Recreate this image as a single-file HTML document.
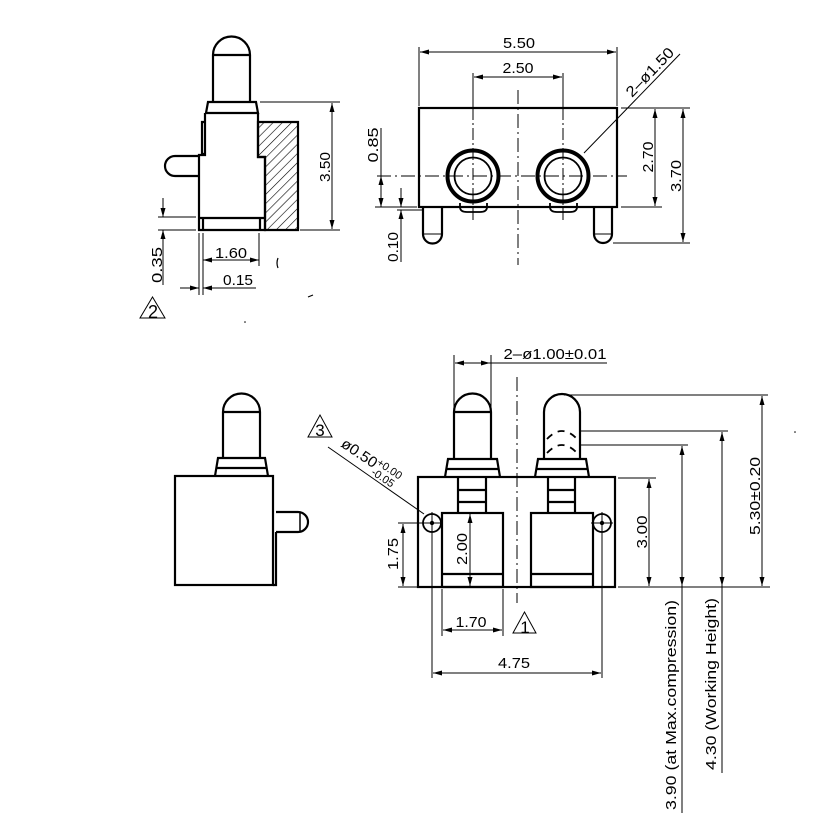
<!DOCTYPE html>
<html><head><meta charset="utf-8"><style>
html,body{margin:0;padding:0;background:#fff;}
svg{display:block;}
text{font-family:"Liberation Sans",sans-serif;font-size:15px;fill:#000;}
</style></head><body>
<svg width="838" height="839" viewBox="0 0 838 839" xmlns="http://www.w3.org/2000/svg">
<defs>
<marker id="a" markerUnits="userSpaceOnUse" markerWidth="10" markerHeight="6" refX="9" refY="2.5" orient="auto-start-reverse"><path d="M0,0 L9,2.5 L0,5 Z" fill="#000"/></marker>
<pattern id="h" patternUnits="userSpaceOnUse" width="6.5" height="6.5" patternTransform="rotate(45)"><line x1="0" y1="0" x2="0" y2="6.5" stroke="#000" stroke-width="1.2"/></pattern>
</defs>
<rect width="838" height="839" fill="#fff"/>

<!-- ============ TOP LEFT VIEW ============ -->
<g fill="none" stroke="#000" stroke-width="2.2">
<path d="M213,102 V55 A18.5,18.5 0 0 1 250,55 V102"/>
<line x1="213" y1="55" x2="250" y2="55"/>
<path d="M206,113 L208,102 H256 L258,113 Z"/>
<path d="M205,113 V155 H199 V230 H265 V157 H258 V113"/>
<path d="M258,122 H298 V230 H265 V157 H258 Z" fill="url(#h)"/>
<path d="M205,122 H202 V154 H205"/>
<line x1="199" y1="218" x2="265" y2="218"/>
<line x1="203" y1="218" x2="203" y2="230"/>
<line x1="260" y1="218" x2="260" y2="230"/>
<path d="M199,156 H175 A10,10 0 0 0 175,176 H199"/>
</g>
<g fill="none" stroke="#000" stroke-width="1">
<line x1="260" y1="102" x2="340" y2="102"/>
<line x1="300" y1="230" x2="340" y2="230"/>
<line x1="332" y1="103" x2="332" y2="229" marker-start="url(#a)" marker-end="url(#a)"/>
<line x1="158" y1="217" x2="196" y2="217"/>
<line x1="158" y1="230" x2="196" y2="230"/>
<line x1="163" y1="198" x2="163" y2="217" marker-end="url(#a)"/>
<line x1="163" y1="285" x2="163" y2="230" marker-end="url(#a)"/>
<line x1="199" y1="233" x2="199" y2="295"/>
<line x1="203" y1="233" x2="203" y2="295"/>
<line x1="259" y1="233" x2="259" y2="266"/>
<line x1="203" y1="260" x2="259" y2="260" marker-start="url(#a)" marker-end="url(#a)"/>
<line x1="180" y1="288" x2="199" y2="288" marker-end="url(#a)"/>
<line x1="256" y1="288" x2="203" y2="288" marker-end="url(#a)"/>
<path d="M140,318 H165 L152.5,297 Z"/>
</g>
<text transform="translate(330,167) rotate(-90)" text-anchor="middle" textLength="30" lengthAdjust="spacingAndGlyphs">3.50</text>
<text transform="translate(162,265) rotate(-90)" text-anchor="middle" textLength="36" lengthAdjust="spacingAndGlyphs">0.35</text>
<text x="231" y="258" text-anchor="middle" textLength="32" lengthAdjust="spacingAndGlyphs">1.60</text>
<text x="238" y="285" text-anchor="middle" textLength="30" lengthAdjust="spacingAndGlyphs">0.15</text>
<text x="153" y="318" text-anchor="middle" style="font-size:18px">2</text>

<!-- ============ TOP RIGHT VIEW ============ -->
<g fill="none" stroke="#000" stroke-width="2.2">
<rect x="419" y="108" width="198" height="99"/>
<circle cx="473" cy="176" r="25.5" stroke-width="4"/>
<circle cx="473" cy="176" r="18.5" stroke-width="1.8"/>
<circle cx="563" cy="176" r="25.5" stroke-width="4"/>
<circle cx="563" cy="176" r="18.5" stroke-width="1.8"/>
<path d="M460,203 V207 Q460,212 467,212 H480 Q487,212 487,207 V203" stroke-width="1.8"/>
<path d="M550,203 V207 Q550,212 557,212 H570 Q577,212 577,207 V203" stroke-width="1.8"/>
<path d="M423,207 V234 A9.5,9.5 0 0 0 442,234 V207"/>
<path d="M594,207 V234 A9,9 0 0 0 612,234 V207"/>
<line x1="423" y1="234" x2="442" y2="234" stroke-width="1"/>
<line x1="594" y1="234" x2="612" y2="234" stroke-width="1"/>
</g>
<g fill="none" stroke="#000" stroke-width="1">
<line x1="518" y1="90" x2="518" y2="265" stroke-dasharray="14 4 2 4"/>
<line x1="473" y1="73" x2="473" y2="108"/>
<line x1="563" y1="73" x2="563" y2="108"/>
<line x1="473" y1="108" x2="473" y2="222" stroke-dasharray="12 3 2 3"/>
<line x1="563" y1="108" x2="563" y2="222" stroke-dasharray="12 3 2 3"/>
<line x1="377" y1="176" x2="627" y2="176" stroke-dasharray="14 4 2 4"/>
<line x1="419" y1="47" x2="419" y2="106"/>
<line x1="617" y1="47" x2="617" y2="106"/>
<line x1="420" y1="52" x2="616" y2="52" marker-start="url(#a)" marker-end="url(#a)"/>
<line x1="474" y1="77" x2="562" y2="77" marker-start="url(#a)" marker-end="url(#a)"/>
<line x1="584" y1="153" x2="680" y2="54"/>
<line x1="621" y1="108" x2="690" y2="108"/>
<line x1="621" y1="207" x2="662" y2="207"/>
<line x1="613" y1="243" x2="690" y2="243"/>
<line x1="655" y1="109" x2="655" y2="206" marker-start="url(#a)" marker-end="url(#a)"/>
<line x1="683" y1="109" x2="683" y2="242" marker-start="url(#a)" marker-end="url(#a)"/>
<line x1="375" y1="207" x2="417" y2="207"/>
<line x1="381" y1="128" x2="381" y2="207"/>
<line x1="381" y1="190" x2="381" y2="176" marker-end="url(#a)"/>
<line x1="381" y1="195" x2="381" y2="207" marker-end="url(#a)"/>
<line x1="397" y1="210" x2="422" y2="210"/>
<line x1="401" y1="188" x2="401" y2="207" marker-end="url(#a)"/>
<line x1="401" y1="262" x2="401" y2="210" marker-end="url(#a)"/>
</g>
<text x="519" y="48" text-anchor="middle" textLength="32" lengthAdjust="spacingAndGlyphs">5.50</text>
<text x="518" y="73" text-anchor="middle" textLength="31" lengthAdjust="spacingAndGlyphs">2.50</text>
<text transform="translate(632,98) rotate(-46)" textLength="62" lengthAdjust="spacingAndGlyphs">2–ø1.50</text>
<text transform="translate(653,157) rotate(-90)" text-anchor="middle" textLength="31" lengthAdjust="spacingAndGlyphs">2.70</text>
<text transform="translate(681,176) rotate(-90)" text-anchor="middle" textLength="32" lengthAdjust="spacingAndGlyphs">3.70</text>
<text transform="translate(378,145) rotate(-90)" text-anchor="middle" textLength="35" lengthAdjust="spacingAndGlyphs">0.85</text>
<text transform="translate(398,247) rotate(-90)" text-anchor="middle" textLength="30" lengthAdjust="spacingAndGlyphs">0.10</text>

<!-- ============ BOTTOM LEFT VIEW ============ -->
<g fill="none" stroke="#000" stroke-width="2.2">
<path d="M223,458 V412 A18.5,18.5 0 0 1 260,412 V458"/>
<line x1="223" y1="412" x2="260" y2="412"/>
<path d="M215,476 L218,458 H265 L268,476"/>
<line x1="216" y1="468" x2="267" y2="468"/>
<rect x="175" y="476" width="98" height="109"/>
<path d="M276,532 V585 H273"/>
<path d="M276,512 H298 A10,10 0 0 1 298,532 H276"/>
<line x1="300" y1="512" x2="300" y2="532" stroke-width="1.5"/>
</g>

<!-- ============ BOTTOM RIGHT VIEW ============ -->
<g fill="none" stroke="#000" stroke-width="2.2">
<path d="M454,459 V412 A18.5,18.5 0 0 1 491,412 V459"/>
<line x1="454" y1="412" x2="491" y2="412"/>
<path d="M445,477 L448,459 H497 L500,477"/>
<line x1="446" y1="469" x2="499" y2="469"/>
<path d="M544,459 V412 A18,18 0 0 1 580,412 V459"/>
<path d="M535,477 L538,459 H586 L589,477"/>
<line x1="536" y1="469" x2="588" y2="469"/>
<path d="M547,439 Q562,423 577,439" stroke-dasharray="7 6" stroke-width="1.8"/>
<path d="M547,453 Q562,437 577,453" stroke-dasharray="7 6" stroke-width="1.8"/>
<rect x="418" y="477" width="197" height="110"/>
<line x1="458" y1="477" x2="458" y2="513"/>
<line x1="486" y1="477" x2="486" y2="513"/>
<line x1="548" y1="477" x2="548" y2="513"/>
<line x1="575" y1="477" x2="575" y2="513"/>
<line x1="458" y1="490" x2="486" y2="490"/>
<line x1="458" y1="502" x2="486" y2="502"/>
<line x1="548" y1="490" x2="575" y2="490"/>
<line x1="548" y1="502" x2="575" y2="502"/>
<rect x="442" y="513" width="61" height="74"/>
<line x1="442" y1="574" x2="503" y2="574"/>
<rect x="531" y="513" width="62" height="74"/>
<line x1="531" y1="574" x2="593" y2="574"/>
<circle cx="432" cy="523" r="9" stroke-width="1.8"/>
<circle cx="602" cy="523" r="9" stroke-width="1.8"/>
</g>
<circle cx="432" cy="523" r="2.2" fill="#000"/>
<circle cx="602" cy="523" r="2.2" fill="#000"/>
<g fill="none" stroke="#000" stroke-width="1">
<line x1="421" y1="523" x2="443" y2="523"/>
<line x1="591" y1="523" x2="613" y2="523"/>
<line x1="432" y1="512" x2="432" y2="678"/>
<line x1="602" y1="512" x2="602" y2="678"/>
<line x1="517" y1="377" x2="517" y2="603" stroke-dasharray="14 4 2 4"/>
<line x1="454" y1="355" x2="454" y2="411"/>
<line x1="491" y1="355" x2="491" y2="411"/>
<line x1="455" y1="363" x2="490" y2="363" marker-start="url(#a)" marker-end="url(#a)"/>
<line x1="490" y1="363" x2="607" y2="363"/>
<line x1="328" y1="447" x2="424" y2="514"/>
<path d="M308,437 H332 L320,415 Z"/>
<line x1="398" y1="523" x2="423" y2="523"/>
<line x1="398" y1="587" x2="418" y2="587"/>
<line x1="403" y1="524" x2="403" y2="586" marker-start="url(#a)" marker-end="url(#a)"/>
<line x1="470" y1="514" x2="470" y2="586" marker-start="url(#a)" marker-end="url(#a)"/>
<line x1="618" y1="478" x2="656" y2="478"/>
<line x1="618" y1="587" x2="770" y2="587"/>
<line x1="649" y1="479" x2="649" y2="586" marker-start="url(#a)" marker-end="url(#a)"/>
<line x1="564" y1="395" x2="768" y2="395"/>
<line x1="762" y1="396" x2="762" y2="586" marker-start="url(#a)" marker-end="url(#a)"/>
<line x1="581" y1="431" x2="728" y2="431"/>
<line x1="722" y1="432" x2="722" y2="586" marker-start="url(#a)" marker-end="url(#a)"/>
<line x1="722" y1="586" x2="722" y2="773"/>
<line x1="581" y1="445" x2="688" y2="445"/>
<line x1="682" y1="446" x2="682" y2="586" marker-start="url(#a)" marker-end="url(#a)"/>
<line x1="682" y1="586" x2="682" y2="813"/>
<line x1="442" y1="589" x2="442" y2="636"/>
<line x1="503" y1="589" x2="503" y2="636"/>
<line x1="443" y1="630" x2="502" y2="630" marker-start="url(#a)" marker-end="url(#a)"/>
<line x1="433" y1="673" x2="601" y2="673" marker-start="url(#a)" marker-end="url(#a)"/>
<path d="M513,633 H536 L524.5,612 Z"/>
</g>
<text x="555" y="359" text-anchor="middle" textLength="103" lengthAdjust="spacingAndGlyphs">2–ø1.00±0.01</text>
<text transform="translate(340,446) rotate(34)"><tspan textLength="40" lengthAdjust="spacingAndGlyphs">ø0.50</tspan><tspan style="font-size:11px" dy="-5">+0.00</tspan><tspan style="font-size:11px" dx="-27" dy="11">-0.05</tspan></text>
<text x="320" y="436" text-anchor="middle" style="font-size:17px">3</text>
<text x="525" y="633" text-anchor="middle" style="font-size:17px">1</text>
<text transform="translate(398,554) rotate(-90)" text-anchor="middle" textLength="32" lengthAdjust="spacingAndGlyphs">1.75</text>
<text transform="translate(467,549) rotate(-90)" text-anchor="middle" textLength="32" lengthAdjust="spacingAndGlyphs">2.00</text>
<text transform="translate(647,532) rotate(-90)" text-anchor="middle" textLength="33" lengthAdjust="spacingAndGlyphs">3.00</text>
<text transform="translate(760,496) rotate(-90)" text-anchor="middle" textLength="78" lengthAdjust="spacingAndGlyphs">5.30±0.20</text>
<text transform="translate(676,705) rotate(-90)" text-anchor="middle" textLength="210" lengthAdjust="spacingAndGlyphs">3.90 (at Max.compression)</text>
<text transform="translate(716,684) rotate(-90)" text-anchor="middle" textLength="172" lengthAdjust="spacingAndGlyphs">4.30 (Working Height)</text>
<text x="471" y="627" text-anchor="middle" textLength="31" lengthAdjust="spacingAndGlyphs">1.70</text>
<text x="514" y="668" text-anchor="middle" textLength="32" lengthAdjust="spacingAndGlyphs">4.75</text>

<!-- specks -->
<g stroke="#000" stroke-width="1.2" fill="none">
<path d="M278,258 Q276,263 278,268"/>
<line x1="308" y1="297" x2="313" y2="295"/>
</g>
<circle cx="245" cy="322" r="0.8" fill="#000"/>
<circle cx="795" cy="432" r="0.8" fill="#000"/>
</svg>
</body></html>
